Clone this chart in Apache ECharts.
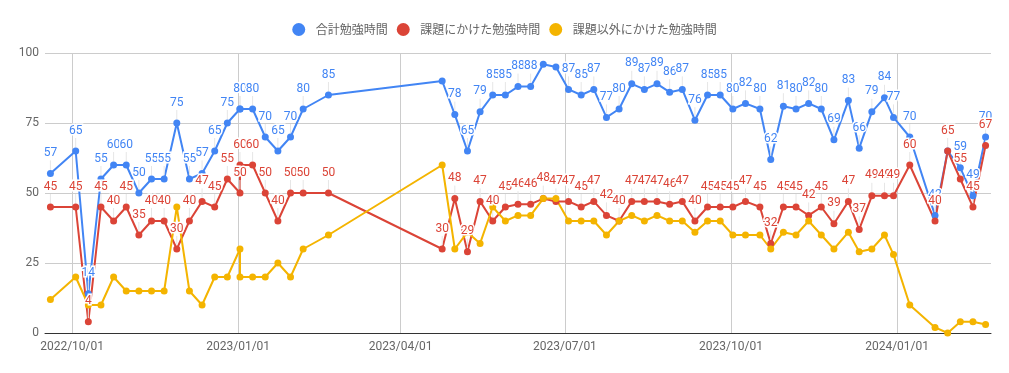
<!DOCTYPE html>
<html>
<head>
<meta charset="utf-8">
<script src="https://cdn.jsdelivr.net/npm/echarts@6/dist/echarts.min.js"></script>
<style>
html,body{margin:0;padding:0;background:#fff;}
#chart{width:1009px;height:373px;}
</style>
</head>
<body>
<div id="chart"></div>
<script>
// ---- data ----
const dates = ['2022-09-19','2022-10-03','2022-10-10','2022-10-17','2022-10-24','2022-10-31','2022-11-07','2022-11-14','2022-11-21','2022-11-28',
  '2022-12-05','2022-12-12','2022-12-19','2022-12-26','2023-01-02','2023-01-02','2023-01-09','2023-01-16','2023-01-23','2023-01-30',
  '2023-02-06','2023-02-20','2023-04-24','2023-05-01','2023-05-08','2023-05-15','2023-05-22','2023-05-29','2023-06-05','2023-06-12',
  '2023-06-19','2023-06-26','2023-07-03','2023-07-10','2023-07-17','2023-07-24','2023-07-31','2023-08-07','2023-08-14','2023-08-21',
  '2023-08-28','2023-09-04','2023-09-11','2023-09-18','2023-09-25','2023-10-02','2023-10-09','2023-10-17','2023-10-23','2023-10-30',
  '2023-11-06','2023-11-13','2023-11-20','2023-11-27','2023-12-05','2023-12-11','2023-12-18','2023-12-25','2023-12-30','2024-01-08',
  '2024-01-22','2024-01-29','2024-02-05','2024-02-12','2024-02-19'];
const totalStudy = [57,65,14,55,60,60,50,55,55,75, 55,57,65,75,80,80,80,70,65,70,
  80,85,90,78,65,79,85,85,88,88, 96,95,87,85,87,77,80,89,87,89,
  86,87,76,85,85,80,82,80,62,81, 80,82,80,69,83,66,79,84,77,70,
  42,65,59,49,70];
const assignmentStudy = [45,45,4,45,40,45,35,40,40,30, 40,47,45,55,50,60,60,50,40,50,
  50,50,30,48,29,47,40,45,46,46, 48,47,47,45,47,42,40,47,47,47,
  46,47,40,45,45,45,47,45,32,45, 45,42,45,39,47,37,49,49,49,60,
  40,65,55,45,67];
const otherStudy = [12,20,10,10,20,15,15,15,15,45, 15,10,20,20,30,20,20,20,25,20,
  30,35,60,30,36,32,45,40,42,42, 48,48,40,40,40,35,40,42,40,42,
  40,40,36,40,40,35,35,35,30,36, 35,40,35,30,36,29,30,35,28,10,
  2,0,4,4,3];
const seriesNames = ['合計勉強時間','課題にかけた勉強時間','課題以外にかけた勉強時間'];
const xTickLabels = ['2022/10/01','2023/01/01','2023/04/01','2023/07/01','2023/10/01','2024/01/01'];
const yTicks = [0,25,50,75,100];
// annotations of the total series that the original does not show
const hiddenTotalLabels = [22,30,31,61];

// ---- chart ----
const colors = ['#4285F4','#DB4437','#F4B400'];
const tickValues = xTickLabels.map(s => { const p = s.split('/'); return new Date(+p[0], +p[1]-1, +p[2]).getTime(); });
const FONT = 'Roboto, "Noto Sans", sans-serif';

function labelCfg(color){
  return {
    show: true, position: 'top', distance: 2,
    color: color, fontFamily: FONT, fontSize: 12,
    textBorderColor: '#fff', textBorderWidth: 3
  };
}
function mk(vals, idx, withLabels, hidden){
  return {
    name: seriesNames[idx], type: 'line',
    data: vals.map((v,i) => {
      const d = {value: [dates[i], v]};
      if (hidden && hidden.indexOf(i) >= 0) d.label = {show:false};
      return d;
    }),
    symbol: 'circle', symbolSize: 7, showSymbol: true,
    itemStyle: {color: colors[idx]},
    lineStyle: {color: colors[idx], width: 2},
    label: withLabels ? labelCfg(colors[idx]) : {show:false},
    labelLayout: withLabels ? {dy: -9} : undefined,
    labelLine: withLabels ? {show: true, lineStyle: {color: '#e6e6e6', width: 1}} : undefined,
    emphasis: {disabled: true},
    animation: false
  };
}

const chart = echarts.init(document.getElementById('chart'), null, {renderer: 'canvas'});
chart.setOption({
  backgroundColor: '#fff',
  animation: false,
  color: colors,
  legend: {
    top: 18, left: 'center',
    icon: 'circle', itemWidth: 24, itemHeight: 13, itemGap: 9,
    textStyle: {color: '#666', fontSize: 12, fontFamily: '"Noto Sans CJK JP", sans-serif'},
    data: seriesNames
  },
  grid: {left: 45, right: 18, top: 53, bottom: 40},
  xAxis: {
    type: 'time',
    min: new Date(2022, 8, 16).getTime(),
    max: new Date(2024, 1, 22).getTime(),
    axisLine: {show: true, lineStyle: {color: '#333', width: 1}},
    axisTick: {show: false, customValues: tickValues},
    axisLabel: {customValues: tickValues, formatter: '{yyyy}/{MM}/{dd}', color: '#666', fontSize: 12, fontFamily: FONT, margin: 8, hideOverlap: false},
    splitLine: {show: true, lineStyle: {color: '#cccccc', width: 1}}
  },
  yAxis: {
    type: 'value', min: yTicks[0], max: yTicks[yTicks.length-1], interval: 25,
    axisLine: {show: false}, axisTick: {show: false},
    axisLabel: {color: '#666', fontSize: 12, fontFamily: FONT, margin: 6},
    splitLine: {lineStyle: {color: '#cccccc', width: 1}}
  },
  series: [
    mk(totalStudy, 0, true, hiddenTotalLabels),
    mk(assignmentStudy, 1, true, null),
    mk(otherStudy, 2, false, null)
  ]
});
</script>
</body>
</html>
